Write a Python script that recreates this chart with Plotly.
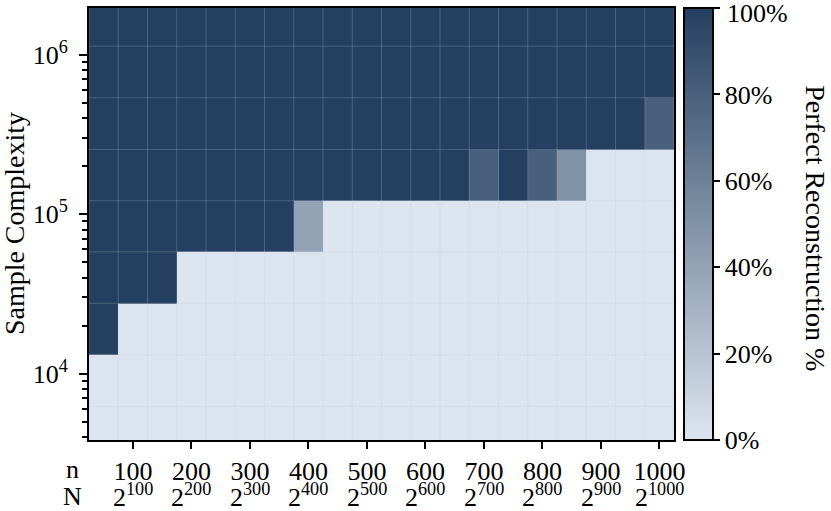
import numpy as np
import plotly.graph_objects as go

# problem size n (columns) and sample complexity (rows, log spaced)
n_values = [50, 100, 150, 200, 250, 300, 350, 400, 450, 500,
            550, 600, 650, 700, 750, 800, 850, 900, 950, 1000]
sample_complexity = [4300, 9000, 19000, 40000, 84000, 175000, 370000, 780000, 1640000]

# perfect reconstruction rate (%), one row per sample complexity (bottom to top)
success = [
    [0] * 20,
    [0] * 20,
    [100] + [0] * 19,
    [100] * 3 + [0] * 17,
    [100] * 7 + [40] + [0] * 12,
    [100] * 13 + [80, 100, 80, 50] + [0] * 3,
    [100] * 19 + [80],
    [100] * 20,
    [100] * 20,
]

tick_n = [100, 200, 300, 400, 500, 600, 700, 800, 900, 1000]
y_major = [1e4, 1e5, 1e6]
y_major_text = ["10<sup>4</sup>", "10<sup>5</sup>", "10<sup>6</sup>"]
cbar_ticks = [0, 20, 40, 60, 80, 100]

FONT = "Liberation Serif"
FS = 26
TITLE_FS = 28

# cell edges (geometric midpoints on the log axis)
xc = np.array(n_values, dtype=float)
x_edges = np.concatenate([[xc[0] - (xc[1] - xc[0]) / 2], (xc[:-1] + xc[1:]) / 2, [xc[-1] + (xc[-1] - xc[-2]) / 2]])
lc = np.log10(sample_complexity)
y_edges = 10 ** np.concatenate([[lc[0] - (lc[1] - lc[0]) / 2], (lc[:-1] + lc[1:]) / 2, [lc[-1] + (lc[-1] - lc[-2]) / 2]])

minor_vals = [k * 10 ** d for d in range(3, 7) for k in range(2, 10)]

# top colorbar label is drawn separately so it can sit a bit lower (not clipped)
cbar_text = [f"{v}%" if v < 100 else "" for v in cbar_ticks]

fig = go.Figure()
fig.add_trace(go.Heatmap(
    x=n_values, y=y_edges, z=success, zmin=0, zmax=100,
    colorscale=[[0, "#dce5ef"], [1, "#243f5f"]],
    colorbar=dict(
        thickness=29, len=1, lenmode="fraction", y=0.5, yanchor="middle",
        x=1.017, xanchor="left", xpad=0, ypad=0,
        outlinewidth=2, outlinecolor="black",
        tickvals=cbar_ticks, ticktext=cbar_text,
        ticks="outside", ticklen=6, tickwidth=2, tickcolor="black",
        ticklabeloverflow="allow",
        tickfont=dict(family=FONT, size=FS, color="black"),
    ),
    hoverinfo="skip",
))

# faint cell borders
gx, gy = [], []
for xe in x_edges:
    gx += [xe, xe, None]
    gy += [y_edges[0], y_edges[-1], None]
for ye in y_edges:
    gx += [x_edges[0], x_edges[-1], None]
    gy += [ye, ye, None]
fig.add_trace(go.Scatter(x=gx, y=gy, mode="lines", line=dict(color="rgba(194,205,218,0.25)", width=1),
                         hoverinfo="skip", showlegend=False))

fig.update_xaxes(
    range=[x_edges[0], x_edges[-1]], tickvals=tick_n, ticktext=[str(v) for v in tick_n],
    ticks="outside", ticklen=7, tickwidth=2, tickcolor="black",
    showline=True, linewidth=2, linecolor="black", mirror=True, showgrid=False, zeroline=False,
    tickfont=dict(family=FONT, size=FS, color="black"), automargin=False,
)
fig.update_yaxes(
    type="log", range=[3.583, 6.293], tickvals=y_major, ticktext=y_major_text,
    ticks="outside", ticklen=8, tickwidth=2, tickcolor="black", ticklabelstandoff=6,
    minor=dict(tickvals=minor_vals, ticks="outside", ticklen=5, tickwidth=1.5, tickcolor="black", showgrid=False),
    showline=True, linewidth=2, linecolor="black", mirror=True, showgrid=False, zeroline=False,
    tickfont=dict(family=FONT, size=FS, color="black"), automargin=False,
)

ann_font = dict(family=FONT, size=FS, color="black")
title_font = dict(family=FONT, size=TITLE_FS, color="black")
annotations = [
    dict(text="Sample Complexity", textangle=-90, xref="paper", yref="paper", x=-0.128, y=0.5,
         xanchor="center", yanchor="middle", showarrow=False, font=title_font),
    dict(text="Perfect Reconstruction %", textangle=90, xref="paper", yref="paper", x=1.243, y=0.49,
         xanchor="center", yanchor="middle", showarrow=False, font=title_font),
    dict(text=f"{cbar_ticks[-1]}%", xref="paper", yref="paper", x=1.0865, y=1, yshift=-5,
         xanchor="left", yanchor="middle", showarrow=False, font=ann_font),
    dict(text="n", xref="paper", yref="paper", x=-0.029, y=0, yshift=-29,
         xanchor="center", yanchor="middle", showarrow=False, font=ann_font),
    dict(text="N", xref="paper", yref="paper", x=-0.029, y=0, yshift=-56,
         xanchor="center", yanchor="middle", showarrow=False, font=ann_font),
]
for v in tick_n:
    annotations.append(dict(text=f"2<sup>{v}</sup>", xref="x", yref="paper", x=v, y=0, yshift=-55,
                            xanchor="center", yanchor="middle", showarrow=False, font=ann_font))

fig.update_layout(
    width=831, height=511,
    margin=dict(l=89, r=157, t=8, b=71, autoexpand=False),
    paper_bgcolor="white", plot_bgcolor="white",
    showlegend=False, annotations=annotations,
)

# drop the browser's default body margin so the figure fills the window
fig.write_html("out.html", config={"displayModeBar": False},
               post_script="document.body.style.margin = '0px';")
